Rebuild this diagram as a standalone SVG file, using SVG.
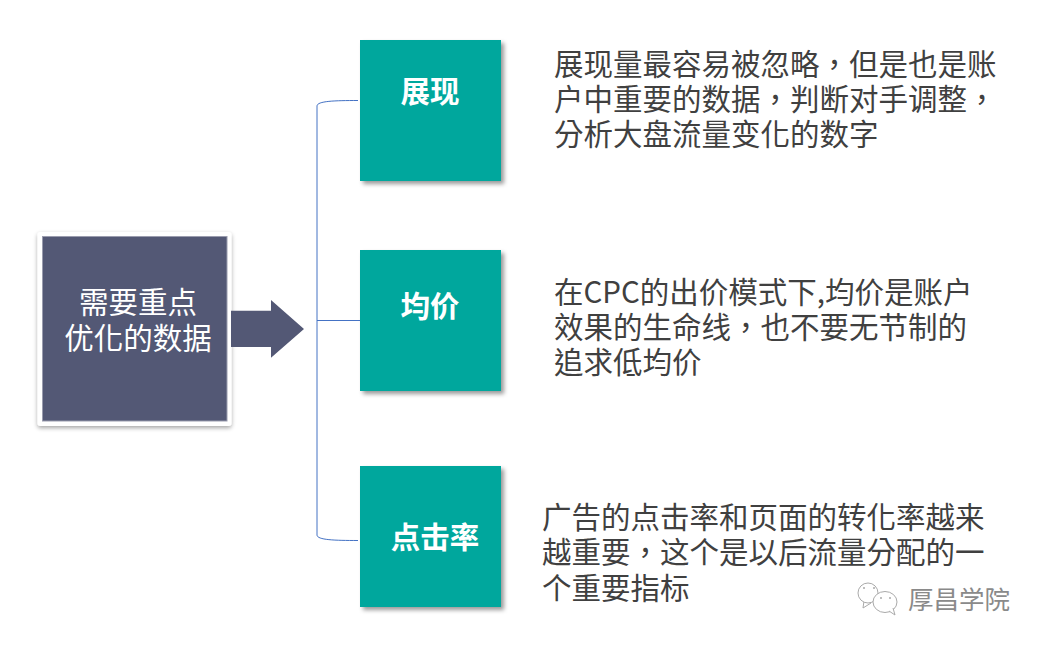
<svg xmlns="http://www.w3.org/2000/svg" width="1043" height="645" viewBox="0 0 1043 645">
<defs>
<filter id="sh" x="-10%" y="-10%" width="125%" height="125%"><feDropShadow dx="3" dy="3" stdDeviation="2" flood-color="#000" flood-opacity="0.4"/></filter>
<filter id="sh2" x="-10%" y="-10%" width="120%" height="120%"><feDropShadow dx="0" dy="2" stdDeviation="2" flood-color="#000" flood-opacity="0.35"/></filter>
</defs>
<style>
text{font-family:"Noto Sans CJK TC","Liberation Sans",sans-serif}
.box{fill:#00a79d;filter:url(#sh)}
.h{font-size:29.500px;font-weight:700;fill:#fff;text-anchor:middle}
.b{font-size:29.500px;fill:#404040}
.c{font-size:29.500px;fill:#fff;text-anchor:middle}
.l{fill:none;stroke:#4472c4;stroke-width:1}
.w{fill:#fff;stroke:#aaa;stroke-width:1}
.d{fill:#aaa}
</style>
<rect width="1043" height="645" fill="#fff"/>
<g id="root">
<rect x="37.500" y="232" width="194" height="194" rx="3" fill="#fff" filter="url(#sh2)"/>
<rect x="42.500" y="236.500" width="184.500" height="184.500" fill="#535875" stroke="#9a9cae" stroke-width="1"/>
<text class="c"><tspan x="138" y="313">需要重点</tspan><tspan x="138" y="349">优化的数据</tspan></text>
</g>
<g id="connectors">
<path class="l" d="M358 100.500 C335 100.500 317 101 317 106 V535 C317 540 335 540.500 358 540.500"/>
<path class="l" d="M317 320.500 H360"/>
<path id="big-arrow" fill="#535875" d="M231 310.700 H271 V300 L304 329 L271 357.700 V347 H231 Z"/>
</g>
<g id="n1">
<rect class="box" x="360" y="40" width="141" height="141"/>
<text class="h" x="430" y="102">展现</text>
</g>
<g id="n2">
<rect class="box" x="360" y="250" width="141" height="141"/>
<text class="h" x="430" y="317">均价</text>
</g>
<g id="n3">
<rect class="box" x="360" y="466" width="141" height="141"/>
<text class="h" x="435" y="548">点击率</text>
</g>
<g id="t1">
<text class="b"><tspan x="554" y="75">展现量最容易被忽略，但是也是账</tspan><tspan x="554" y="110">户中重要的数据，判断对手调整，</tspan><tspan x="554" y="145">分析大盘流量变化的数字</tspan></text>
</g>
<g id="t2">
<text class="b"><tspan x="554" y="303">在CPC的出价模式下,均价是账户</tspan><tspan x="554" y="338">效果的生命线，也不要无节制的</tspan><tspan x="554" y="373">追求低均价</tspan></text>
</g>
<g id="t3">
<text class="b"><tspan x="542" y="528">广告的点击率和页面的转化率越来</tspan><tspan x="542" y="563">越重要，这个是以后流量分配的一</tspan><tspan x="542" y="599">个重要指标</tspan></text>
</g>
<g id="watermark">
<path class="w" d="M864 601 L863 608 L871 603"/>
<ellipse class="w" cx="868" cy="593" rx="10" ry="10"/>
<ellipse class="w" cx="885" cy="602" rx="12" ry="10.500"/>
<path class="w" d="M889 611 L895 615 L893 608"/>
<circle class="d" cx="864" cy="588" r="1"/><circle class="d" cx="874" cy="588" r="1"/>
<circle class="d" cx="881" cy="598" r="1"/><circle class="d" cx="890" cy="598" r="1"/>
<text x="908" y="609" font-size="25.500" fill="#8a8a8a">厚昌学院</text>
</g>
</svg>
